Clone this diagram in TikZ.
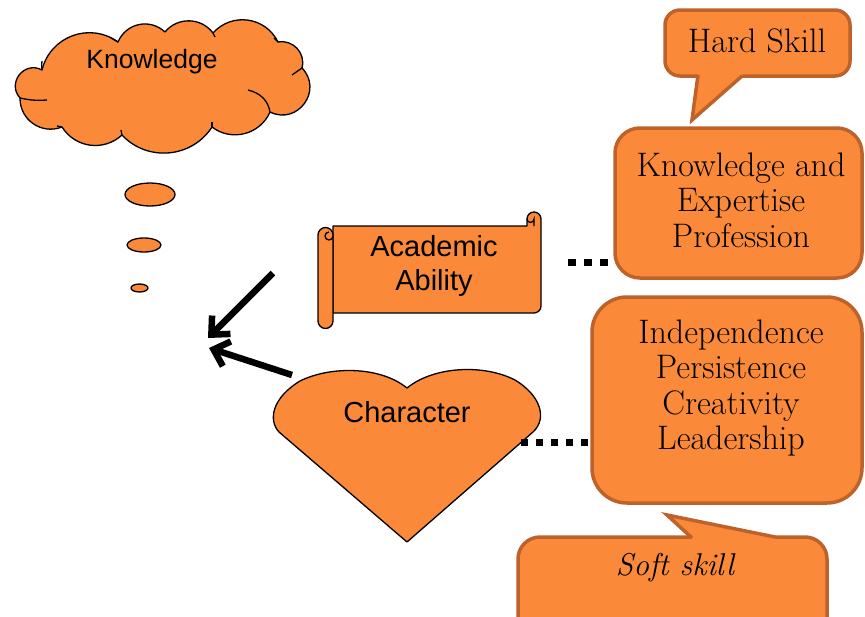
\documentclass[tikz,border=0pt]{standalone}
\usepackage{fontspec}
\newfontfamily\arialf{Liberation Sans}
\usetikzlibrary{shapes.geometric,arrows.meta,calc}
\definecolor{orfill}{RGB}{250,138,57}
\definecolor{brownline}{RGB}{188,98,42}
\begin{document}
\begin{tikzpicture}[x=1pt,y=-1pt,
  blk/.style={draw=black, line width=1.3pt, fill=orfill, line join=round},
  thin/.style={draw=black, line width=1.3pt},
  brbox/.style={draw=brownline, line width=3.5pt, fill=orfill, rounded corners=#1, inner sep=0pt},
  brline/.style={draw=brownline, line width=3.5pt, line join=miter},
  sanslbl/.style={font=\arialf\fontsize{29}{34}\selectfont, align=center, inner sep=0pt},
  seriflbl/.style={font=\fontsize{34}{35.5}\selectfont, align=center, inner sep=0pt},
  bigarrow/.style={line width=6.5pt, -{Straight Barb[length=14pt,width=26pt]}},
  dotline/.style={line width=7pt, dash pattern=on 7pt off 8pt}
]
\useasboundingbox (0,0) rectangle (865,616);
\clip (0,0) rectangle (865,616);

% thought cloud
\coordinate (j1) at (42,70);
\coordinate (j2) at (118,42);
\coordinate (j3) at (165,32);
\coordinate (j4) at (213,33);
\coordinate (j5) at (278,42);
\coordinate (j6) at (302,68);
\coordinate (j7) at (270,112);
\coordinate (j8) at (212,127);
\coordinate (j9) at (122,135);
\coordinate (j10) at (62,127);
\coordinate (j11) at (20,98);
\draw[blk] (j1) to[bend left=56, looseness=1.1] (j2)
  to[bend left=55, looseness=1.1] (j3)
  to[bend left=52, looseness=1.05] (j4)
  to[bend left=56, looseness=1.1] (j5)
  to[bend left=58, looseness=1.1] (j6)
  to[bend left=80, looseness=1.45] (j7)
  to[bend left=52, looseness=1.05] (j8)
  to[bend left=52, looseness=1.05] (j9)
  to[bend left=50, looseness=1.05] (j10)
  to[bend left=56, looseness=1.1] (j11)
  to[bend left=80, looseness=1.45] (j1) -- cycle;
\draw[thin] (j1) to[bend left=8] (42,61);
\draw[thin] (j11) to[bend right=8] (47,100);
\draw[thin] (j10) -- (57,126);
\draw[thin] (j9) -- (121,130);
\draw[thin] (j8) -- (212,122);
\draw[thin] (j7) .. controls (268,100) and (260,93) .. (248,90);
\draw[thin] (j6) -- (292,75);
\draw[thin] (j5) -- (274,38);
\draw[thin] (j4) -- (215,37);
\draw[thin] (j2) -- (111,38);
\node[sanslbl, font=\arialf\fontsize{26.5}{30}\selectfont] (know) at (152,62) {Knowledge};
\node[ellipse, blk, minimum width=50pt, minimum height=23pt, inner sep=0pt] (b1) at (150,194.5) {};
\node[ellipse, blk, minimum width=34pt, minimum height=14pt, inner sep=0pt] (b2) at (144,245) {};
\node[ellipse, blk, minimum width=17pt, minimum height=8pt, inner sep=0pt] (b3) at (139.5,288) {};

% scroll
\draw[blk] (333,226) -- (527,226) -- (527,219) arc[start angle=180,end angle=360,radius=7]
  -- (541,306) arc[start angle=0,end angle=90,radius=7] -- (333,313) -- cycle;
\draw[thin] (527,219) arc[start angle=180,end angle=0,radius=3.5] -- (534,226);
\draw[blk] (318,235) -- (318,321) arc[start angle=180,end angle=0,radius=7.5]
  -- (333,235) arc[start angle=0,end angle=-180,radius=7.5] -- cycle;
\draw[thin] (333,236) arc[start angle=0,end angle=270,radius=4];
\node[sanslbl] (acad) at (434,266) {Academic\\Ability};

% heart
\draw[blk] (407,542) -- (279,432) .. controls (268,420) and (272,398) .. (300,381)
  .. controls (330,366) and (380,366) .. (407,388)
  .. controls (434,366) and (484,364) .. (515,380)
  .. controls (540,395) and (548,418) .. (533,432) -- cycle;
\node[sanslbl] (char) at (407,412) {Character};

% arrows
\coordinate (a1s) at (273,273);
\coordinate (a1e) at (208,338);
\coordinate (a2s) at (292,375);
\coordinate (a2e) at (209,348);
\draw[bigarrow] (a1s) -- (a1e);
\draw[bigarrow] (a2s) -- (a2e);

% Hard skill callout
\node[brbox=15pt, minimum width=185pt, minimum height=66pt] (hardbox) at (757.5,43) {};
\fill[orfill] (698,70) -- (698,76) -- (692,120) -- (742,76) -- (742,70) -- cycle;
\draw[brline] (698,75) -- (692,120) -- (742,76);
\node[seriflbl] (hard) at (757,41) {Hard Skill};

% knowledge box
\node[brbox=25pt, minimum width=247pt, minimum height=150pt] (kbox) at (738.5,203) {};
\node[seriflbl] (ktext) at (741,200) {Knowledge and\\Expertise\\Profession};

% independence box
\node[brbox=35pt, minimum width=270pt, minimum height=206pt] (ibox) at (727,400) {};
\node[seriflbl] (itext) at (731,388) {Independence\\Persistence\\Creativity\\Leadership};

% soft skill callout
\node[brbox=22pt, minimum width=309pt, minimum height=123pt] (softbox) at (672.5,598.5) {};
\fill[orfill] (692,543) -- (692,537) -- (667,515) -- (775,537) -- (775,543) -- cycle;
\draw[brline] (692,538) -- (667,515) -- (775,537);
\node[seriflbl, font=\fontsize{31.5}{35}\selectfont\itshape] (soft) at (675,568) {Soft skill};

% dotted links
\coordinate (d1a) at (568,262);
\coordinate (d1b) at (608,262);
\coordinate (d2a) at (521,442);
\coordinate (d2b) at (590,442);
\draw[line width=7pt, dash pattern=on 8pt off 8pt] (d1a) -- (d1b);
\draw[dotline] (d2a) -- (d2b);
\end{tikzpicture}
\end{document}
